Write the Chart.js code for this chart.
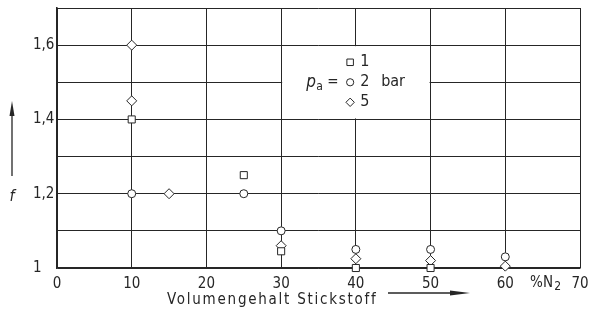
<!DOCTYPE html>
<html>
<head>
<meta charset="utf-8">
<script src="https://cdn.jsdelivr.net/npm/chart.js@4"></script>
<style>
  html, body { margin: 0; padding: 0; background: #fff; }
  #wrap { width: 589px; height: 315px; }
</style>
</head>
<body>
<div id="wrap"><canvas id="graficoStickstoff"></canvas></div>
<script>
// Messwerte: x = Volumengehalt N2 in %, f = Faktor
const xP1 = [10, 25, 30, 40, 50];
const fP1 = [1.4, 1.25, 1.045, 1.0, 1.0];
const xP2 = [10, 25, 30, 40, 50, 60];
const fP2 = [1.2, 1.2, 1.1, 1.05, 1.05, 1.03];
const xP5 = [10, 10, 15, 30, 40, 50, 60];
const fP5 = [1.6, 1.45, 1.2, 1.06, 1.025, 1.02, 1.005];
const druecke = ["1", "2", "5"];
const symbole = ["rect", "circle", "rectRot"];
const yBeschriftet = [1, 1.2, 1.4, 1.6];

const SCHRIFT = '"DejaVu Sans Condensed", "DejaVu Sans", sans-serif';
const LINIE = "#262626";

function punkte(xs, ys) {
    return xs.map((v, i) => ({ x: v, y: ys[i] }));
}

// Legendenfeld, Achsentitel und Pfeile
const beschriftung = {
    id: "beschriftung",
    beforeDatasetsDraw(chart) {
        const { ctx, scales: { x, y } } = chart;
        const l = x.getPixelForValue(30), r = x.getPixelForValue(50);
        const t = y.getPixelForValue(1.6), b = y.getPixelForValue(1.4);
        ctx.save();
        ctx.fillStyle = "#fff";
        ctx.fillRect(l + 1, t + 1, r - l - 2, b - t - 2);
        ctx.restore();
    },
    afterDraw(chart) {
        const { ctx, scales: { x, y } } = chart;
        ctx.save();
        ctx.fillStyle = LINIE;
        ctx.strokeStyle = LINIE;
        ctx.textBaseline = "middle";

        // Legende im Feld
        const l = x.getPixelForValue(30);
        const m = y.getPixelForValue(1.5);
        ctx.font = "italic 17px " + SCHRIFT;
        ctx.textAlign = "left";
        ctx.fillText("p", l + 25, m);
        ctx.font = "12px " + SCHRIFT;
        ctx.fillText("a", l + 35, m + 5);
        ctx.font = "15px " + SCHRIFT;
        ctx.fillText("=", l + 46, m);
        const groesse = [4.6, 3.6, 4.2];
        druecke.forEach((d, i) => {
            const yy = m + (i - 1) * 20;
            ctx.fillStyle = "#fff";
            Chart.helpers.drawPoint(ctx, {
                pointStyle: symbole[i], radius: groesse[i], rotation: 0, borderWidth: 1
            }, l + 69, yy);
            ctx.fillStyle = LINIE;
            ctx.font = "16px " + SCHRIFT;
            ctx.fillText(d, l + 79, yy);
        });
        ctx.fillText("bar", l + 100, m);

        // %N2 vor der 70
        const x70 = x.getPixelForValue(70);
        const yT = y.getPixelForValue(1) + 15;
        ctx.textAlign = "right";
        ctx.font = "12px " + SCHRIFT;
        ctx.fillText("2", x70 - 19, yT + 4);
        ctx.font = "15px " + SCHRIFT;
        ctx.fillText("%N", x70 - 27, yT);

        // x-Achsentitel mit Pfeil
        ctx.textAlign = "left";
        ctx.font = "15px " + SCHRIFT;
        if ("letterSpacing" in ctx) ctx.letterSpacing = "1.75px";
        ctx.fillText("Volumengehalt Stickstoff", 167, 300);
        ctx.letterSpacing = "0px";
        ctx.lineWidth = 1.3;
        ctx.beginPath();
        ctx.moveTo(388, 293);
        ctx.lineTo(455, 293);
        ctx.stroke();
        ctx.beginPath();
        ctx.moveTo(470, 293);
        ctx.lineTo(450, 290.5);
        ctx.lineTo(450, 295.5);
        ctx.closePath();
        ctx.fill();

        // y-Achsentitel mit Pfeil
        ctx.font = "italic 16px " + SCHRIFT;
        ctx.textAlign = "center";
        ctx.fillText("f", 12, 197);
        ctx.beginPath();
        ctx.moveTo(12, 176);
        ctx.lineTo(12, 112);
        ctx.stroke();
        ctx.beginPath();
        ctx.moveTo(12, 101);
        ctx.lineTo(9.5, 116);
        ctx.lineTo(14.5, 116);
        ctx.closePath();
        ctx.fill();
        ctx.restore();
    }
};

const punktStil = {
    showLine: false,
    clip: false,
    borderColor: LINIE,
    backgroundColor: "#fff",
    borderWidth: 1,
    pointBorderWidth: 1
};

new Chart(document.getElementById("graficoStickstoff"), {
    type: "scatter",
    data: {
        datasets: [
            Object.assign({ label: "1 bar", data: punkte(xP1, fP1), pointStyle: "rect", pointRadius: 5 }, punktStil),
            Object.assign({ label: "2 bar", data: punkte(xP2, fP2), pointStyle: "circle", pointRadius: 4 }, punktStil),
            Object.assign({ label: "5 bar", data: punkte(xP5, fP5), pointStyle: "rectRot", pointRadius: 5 }, punktStil)
        ]
    },
    options: {
        responsive: true,
        maintainAspectRatio: false,
        animation: false,
        layout: { padding: { left: 33, right: 9, top: 8, bottom: 0 } },
        plugins: {
            legend: { display: false },
            tooltip: { enabled: false }
        },
        scales: {
            x: {
                type: "linear",
                min: 0,
                max: 70,
                afterFit(s) { s.height = 47; s.paddingLeft = 0; s.paddingRight = 0; },
                border: { display: true, color: LINIE, width: 1.6 },
                grid: { color: LINIE, lineWidth: 1, drawTicks: false },
                ticks: {
                    stepSize: 10,
                    padding: 7,
                    color: LINIE,
                    font: { family: SCHRIFT, size: 15 }
                }
            },
            y: {
                min: 1,
                max: 1.7,
                afterFit(s) { s.width = 24; s.paddingTop = 0; s.paddingBottom = 0; },
                border: { display: true, color: LINIE, width: 1.6 },
                grid: { color: LINIE, lineWidth: 1, drawTicks: false },
                ticks: {
                    stepSize: 0.1,
                    crossAlign: "far",
                    color: LINIE,
                    font: { family: SCHRIFT, size: 15 },
                    callback(v) {
                        const hit = yBeschriftet.find(w => Math.abs(w - v) < 1e-6);
                        if (hit === undefined) return "";
                        return hit === 1 ? "1" : hit.toFixed(1).replace(".", ",");
                    }
                }
            }
        }
    },
    plugins: [beschriftung]
});
</script>
</body>
</html>
